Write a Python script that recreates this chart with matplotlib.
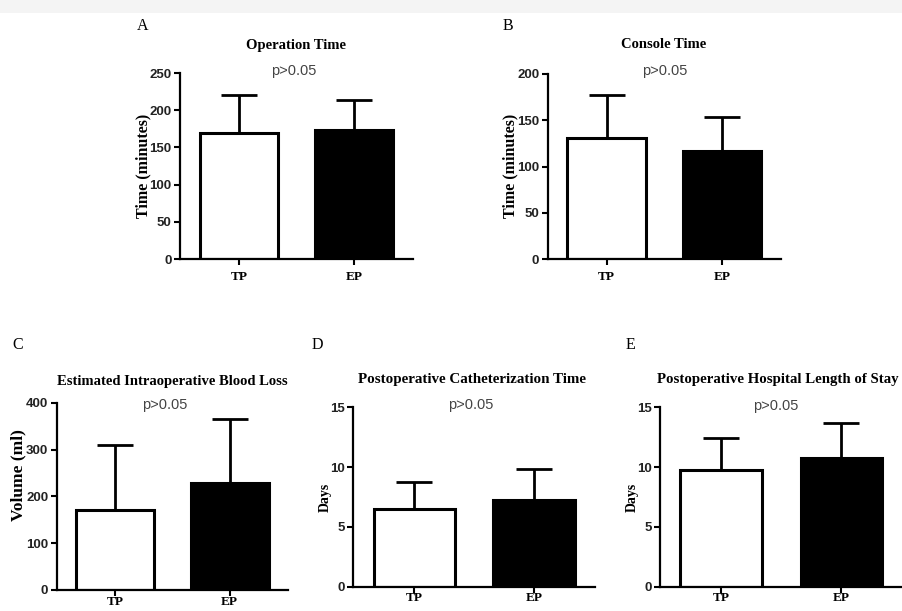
import matplotlib
matplotlib.use("Agg")
import matplotlib.pyplot as plt
from matplotlib.patches import Rectangle

W, H = 902, 611

groups = ["TP", "EP"]
panel_letters = ["A", "B", "C", "D", "E"]
titles = ["Operation Time", "Console Time", "Estimated Intraoperative Blood Loss",
          "Postoperative Catheterization Time", "Postoperative Hospital Length of Stay"]
ylabels = ["Time (minutes)", "Time (minutes)", "Volume (ml)", "Days", "Days"]
means = [[170, 173], [131, 117], [171, 229], [6.5, 7.25], [9.76, 10.79]]
sds = [[51, 41], [46, 37], [139, 136], [2.28, 2.57], [2.7, 2.87]]
ymax = [250, 200, 400, 15, 15]
ystep = [50, 50, 100, 5, 5]
pval = "p>0.05"

# layout in pixels: (x_left, y_top, x_right, y_bottom)
boxes = [(180, 73, 413, 259), (547.7, 74, 781, 259), (56.7, 402.7, 288, 590),
         (353.3, 407.3, 595, 586.7), (660, 407.3, 902.7, 586.7)]
title_pos = [(296, 45, 'center'), (664, 45, 'center'), (172, 381, 'center'),
             (472, 380, 'center'), (657, 380, 'left')]
title_size = [10.5, 10.5, 10.5, 10.8, 10.7]
p_pos = [(294, 71), (665, 71), (165, 405), (471, 405), (776, 406)]
letter_pos = [(143, 26), (508, 26), (18, 345), (317, 345), (630, 345)]
ylab_pos = [(143, 166), (510, 166), (18, 475), (325, 497), (632, 497)]
ylab_size = [11.5, 11.5, 12.5, 10, 10]
xlab_pad = [5, 5, 0, 0, 0]

SERIF = "Liberation Serif"
SANS = "Liberation Sans"

fig = plt.figure(figsize=(W / 100, H / 100), dpi=100)
fig.patches.append(Rectangle((0, 1 - 13 / H), 1, 13 / H, transform=fig.transFigure,
                             facecolor="#f4f4f4", edgecolor="none", zorder=-10))


def fx(x):
    return x / W


def fy(y):
    return 1 - y / H


for i in range(5):
    x0, yt, x1, yb = boxes[i]
    ax = fig.add_axes([fx(x0), fy(yb), (x1 - x0) / W, (yb - yt) / H])
    ax.patch.set_alpha(0)
    xs = list(range(len(groups)))
    ax.bar(xs, means[i], width=0.68, color=["white", "black"], edgecolor="black",
           linewidth=2.2, zorder=2)
    ax.errorbar(xs, means[i], yerr=[[0, 0], sds[i]], fmt="none", ecolor="black",
                elinewidth=2.0, capsize=13, capthick=2.0, zorder=1)
    ax.set_xlim(-0.51, 1.51)
    ax.set_ylim(0, ymax[i])
    ax.set_yticks(range(0, ymax[i] + 1, ystep[i]))
    ax.set_xticks(xs)
    ax.set_xticklabels(groups, fontfamily=SERIF, fontweight="bold", fontsize=9.5)
    for lab in ax.get_yticklabels():
        lab.set_fontfamily(SANS)
        lab.set_fontweight("bold")
        lab.set_fontsize(9.5)
        lab.set_color("#222222")
    for s in ["top", "right"]:
        ax.spines[s].set_visible(False)
    for s in ["left", "bottom"]:
        ax.spines[s].set_linewidth(1.6)
    ax.tick_params(axis="both", direction="out", length=4, width=1.5, pad=2)
    ax.tick_params(axis="x", pad=xlab_pad[i])

    tx, ty, ha = title_pos[i]
    fig.text(fx(tx), fy(ty), titles[i], ha=ha, va="center", fontfamily=SERIF,
             fontweight="bold", fontsize=title_size[i])
    px, py = p_pos[i]
    fig.text(fx(px), fy(py), pval, ha="center", va="center", fontfamily=SANS,
             fontsize=10.5, color="#444444")
    lx, ly = letter_pos[i]
    fig.text(fx(lx), fy(ly), panel_letters[i], ha="center", va="center",
             fontfamily=SERIF, fontsize=11.5)
    yx, yy = ylab_pos[i]
    fig.text(fx(yx), fy(yy), ylabels[i], ha="center", va="center", rotation=90,
             fontfamily=SERIF, fontweight="bold", fontsize=ylab_size[i])

fig.savefig("out.png", dpi=100)
